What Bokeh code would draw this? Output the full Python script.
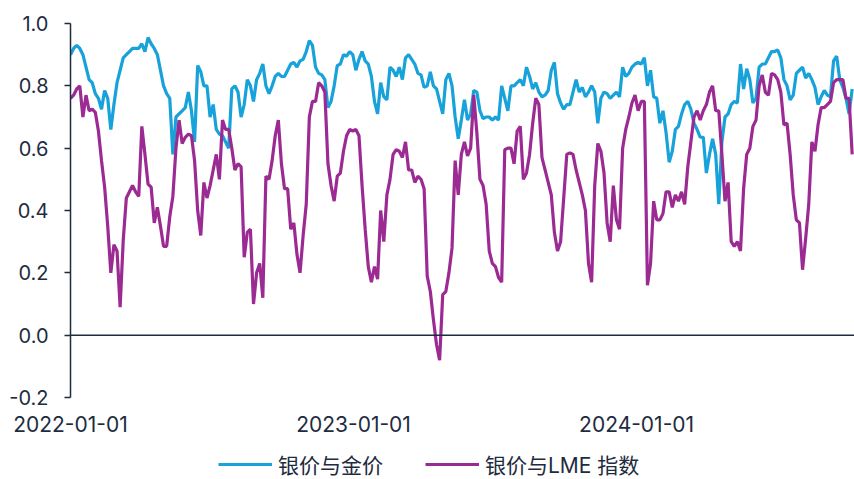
import pandas as pd
from bokeh.plotting import figure
from bokeh.layouts import column
from bokeh.models import (Legend, LegendItem, Span, FixedTicker, DatetimeTickFormatter,
                          NumeralTickFormatter, Range1d, ColumnDataSource)
from bokeh.embed import file_html
from bokeh.resources import INLINE

# Rolling correlation of silver, sampled every 4 days from 2022-01-01
start_date = "2022-01-01"
step = "4D"

silver_gold = [
    0.90, 0.92, 0.93, 0.92, 0.90, 0.86, 0.82, 0.81, 0.775, 0.76,
    0.725, 0.785, 0.76, 0.66, 0.74, 0.81, 0.85, 0.89, 0.90, 0.91,
    0.92, 0.92, 0.92, 0.935, 0.91, 0.955, 0.935, 0.92, 0.90, 0.85,
    0.80, 0.775, 0.76, 0.58, 0.70, 0.71, 0.72, 0.73, 0.78, 0.72, 0.62,
    0.865, 0.845, 0.80, 0.80, 0.70, 0.74, 0.66, 0.645, 0.64, 0.62,
    0.60, 0.79, 0.80, 0.78, 0.70, 0.74, 0.82, 0.80, 0.75, 0.82,
    0.84, 0.87, 0.80, 0.775, 0.80, 0.83, 0.84, 0.83, 0.83, 0.85,
    0.87, 0.875, 0.86, 0.88, 0.885, 0.91, 0.945, 0.93, 0.86, 0.84,
    0.835, 0.82,
    0.73, 0.75, 0.80, 0.865, 0.87, 0.90, 0.895, 0.91, 0.90, 0.85,
    0.885, 0.91, 0.88, 0.87, 0.83, 0.75, 0.71, 0.81, 0.765, 0.755,
    0.86, 0.85, 0.83, 0.86, 0.82, 0.89, 0.90, 0.885, 0.87, 0.84,
    0.835, 0.795, 0.80, 0.845, 0.80, 0.79, 0.75, 0.71, 0.82, 0.84,
    0.80, 0.70,
    0.63, 0.69, 0.755, 0.69, 0.71, 0.785, 0.78, 0.72, 0.695, 0.70,
    0.70, 0.69, 0.70, 0.69, 0.80, 0.76, 0.72, 0.80, 0.80, 0.81,
    0.82, 0.80, 0.86, 0.83, 0.79, 0.81, 0.78, 0.765, 0.77, 0.785,
    0.85, 0.875, 0.775, 0.745, 0.725, 0.74, 0.74, 0.78, 0.82, 0.78,
    0.795, 0.765,
    0.78, 0.80, 0.78, 0.68, 0.76, 0.78, 0.775, 0.76, 0.77, 0.78,
    0.765, 0.86, 0.83, 0.84, 0.86, 0.87, 0.875, 0.87, 0.89, 0.80,
    0.85, 0.765, 0.76, 0.68, 0.72, 0.65, 0.555, 0.59, 0.66, 0.67,
    0.71, 0.74, 0.75, 0.725, 0.68, 0.66, 0.635, 0.635, 0.52, 0.58,
    0.63, 0.58, 0.42, 0.62, 0.70, 0.71, 0.74, 0.75, 0.745, 0.87,
    0.79, 0.855, 0.82, 0.745, 0.76, 0.86, 0.87, 0.87, 0.89, 0.91,
    0.91, 0.915, 0.89, 0.82, 0.80, 0.755, 0.77, 0.84, 0.85, 0.86,
    0.825, 0.84, 0.82, 0.795, 0.74, 0.765, 0.785, 0.77, 0.765, 0.88,
    0.895, 0.82, 0.795, 0.76, 0.71, 0.79,
]

silver_lme = [
    0.76, 0.77, 0.79, 0.80, 0.70, 0.77, 0.72, 0.725, 0.715, 0.655,
    0.56, 0.475, 0.35, 0.20, 0.29, 0.27, 0.09, 0.305, 0.44, 0.46,
    0.48, 0.46, 0.445, 0.67, 0.58, 0.485, 0.475, 0.36, 0.41, 0.35,
    0.285, 0.285, 0.38, 0.445, 0.60, 0.69, 0.615, 0.635, 0.645, 0.64, 0.56,
    0.40, 0.32, 0.49, 0.44, 0.48, 0.53, 0.58, 0.50, 0.69, 0.66,
    0.66, 0.60, 0.53, 0.55, 0.54, 0.25, 0.33, 0.34, 0.10, 0.20,
    0.23, 0.12, 0.51, 0.50, 0.56, 0.64, 0.69, 0.55, 0.47, 0.47,
    0.34, 0.36, 0.26, 0.20, 0.32, 0.42, 0.70, 0.75, 0.75, 0.81,
    0.80, 0.78,
    0.55, 0.48, 0.43, 0.51, 0.52, 0.59, 0.64, 0.66, 0.655, 0.66,
    0.64, 0.48, 0.34, 0.22, 0.17, 0.22, 0.18, 0.40, 0.30, 0.45,
    0.50, 0.58, 0.595, 0.59, 0.57, 0.62, 0.53, 0.53, 0.49, 0.51,
    0.50, 0.47, 0.19, 0.14, 0.05, -0.03, -0.08, 0.13, 0.14, 0.20,
    0.28, 0.56,
    0.45, 0.58, 0.62, 0.575, 0.60, 0.77, 0.65, 0.50, 0.48, 0.42,
    0.27, 0.23, 0.22, 0.185, 0.17, 0.595, 0.60, 0.60, 0.55, 0.655,
    0.67, 0.50, 0.52, 0.58, 0.68, 0.76, 0.74, 0.57, 0.53, 0.49,
    0.45, 0.33, 0.27, 0.30, 0.44, 0.58, 0.585, 0.58, 0.53, 0.49,
    0.45, 0.40,
    0.23, 0.17, 0.48, 0.615, 0.59, 0.52, 0.36, 0.30, 0.48, 0.37,
    0.34, 0.60, 0.66, 0.70, 0.745, 0.77, 0.72, 0.75, 0.75, 0.16,
    0.23, 0.43, 0.37, 0.37, 0.39, 0.46, 0.46, 0.41, 0.45, 0.43,
    0.46, 0.42, 0.54, 0.62, 0.70, 0.72, 0.69, 0.72, 0.74, 0.78,
    0.80, 0.72, 0.72, 0.58, 0.43, 0.49, 0.30, 0.285, 0.30, 0.27,
    0.47, 0.58, 0.60, 0.67, 0.69, 0.80, 0.835, 0.78, 0.77, 0.84,
    0.835, 0.82, 0.78, 0.675, 0.68, 0.58, 0.45, 0.37, 0.36, 0.21,
    0.31, 0.42, 0.62, 0.59, 0.675, 0.73, 0.73, 0.74, 0.75, 0.81,
    0.82, 0.82, 0.82, 0.76, 0.76, 0.58,
]

series_names = ["银价与金价", "银价与LME 指数"]
series_colors = ["#17a2d9", "#9c2a93"]
x_tick_dates = ["2022-01-01", "2023-01-01", "2024-01-01"]
y_ticks = [-0.2, 0.0, 0.2, 0.4, 0.6, 0.8, 1.0]

dates = pd.date_range(start_date, periods=len(silver_gold), freq=step)
source = ColumnDataSource(dict(date=dates, gold=silver_gold, lme=silver_lme))

TEXT = "#1e2c40"
FONT = "Inter, 'Noto Sans CJK SC', sans-serif"
LINE_W = 3.2

p = figure(width=854, height=449, output_backend="svg", toolbar_location=None,
           x_axis_type="datetime",
           x_range=Range1d(pd.Timestamp("2022-01-01"), pd.Timestamp("2024-10-08")),
           y_range=Range1d(-0.2, 1.0),
           min_border_left=70, min_border_right=0, min_border_top=23,
           min_border_bottom=52)
p.outline_line_color = None
p.xgrid.visible = False
p.ygrid.visible = False

p.line("date", "gold", source=source, line_color=series_colors[0], line_width=LINE_W)
p.line("date", "lme", source=source, line_color=series_colors[1], line_width=LINE_W)

p.add_layout(Span(location=0, dimension="width", line_color=TEXT, line_width=1.5))

# x axis: labels only, no line or ticks
xa = p.xaxis[0]
xa.ticker = FixedTicker(ticks=[pd.Timestamp(d).value // 10**6 for d in x_tick_dates])
fmt = "%Y-%m-%d"
xa.formatter = DatetimeTickFormatter(days=fmt, months=fmt, years=fmt)
xa.axis_line_color = None
xa.major_tick_line_color = None
xa.minor_tick_line_color = None
xa.major_label_text_font = FONT
xa.major_label_text_font_size = "21px"
xa.major_label_text_color = TEXT
xa.major_label_standoff = 12

ya = p.yaxis[0]
ya.ticker = FixedTicker(ticks=y_ticks)
ya.formatter = NumeralTickFormatter(format="0.0")
ya.axis_line_color = TEXT
ya.axis_line_width = 1.5
ya.major_tick_line_color = TEXT
ya.major_tick_line_width = 1.5
ya.major_tick_in = 0
ya.major_tick_out = 6
ya.minor_tick_line_color = None
ya.major_label_text_font = FONT
ya.major_label_text_font_size = "20px"
ya.major_label_text_color = TEXT
ya.major_label_standoff = 16

# legend strip under the chart; its key lines use the same data, which lies
# outside this strip's 0..1 ranges and so only shows up as legend swatches
leg = figure(width=854, height=30, output_backend="svg", toolbar_location=None,
             x_range=Range1d(0, 1), y_range=Range1d(0, 1),
             x_axis_location=None, y_axis_location=None,
             min_border=0, min_border_left=0, min_border_right=0,
             min_border_top=0, min_border_bottom=0)
leg.outline_line_color = None
leg.xgrid.visible = False
leg.ygrid.visible = False
k1 = leg.line("date", "gold", source=source, line_color=series_colors[0], line_width=LINE_W)
k2 = leg.line("date", "lme", source=source, line_color=series_colors[1], line_width=LINE_W)
legend = Legend(items=[LegendItem(label=series_names[0], renderers=[k1]),
                       LegendItem(label=series_names[1], renderers=[k2])],
                orientation="horizontal", location=(148, 0),
                label_text_font=FONT, label_text_font_size="21px",
                label_text_color=TEXT, glyph_width=54, glyph_height=20,
                label_standoff=6, spacing=42, margin=0, padding=0,
                border_line_color=None, background_fill_alpha=0)
leg.add_layout(legend, "center")

layout = column(p, leg, spacing=0)
open("out.html", "w").write(file_html(layout, INLINE))
